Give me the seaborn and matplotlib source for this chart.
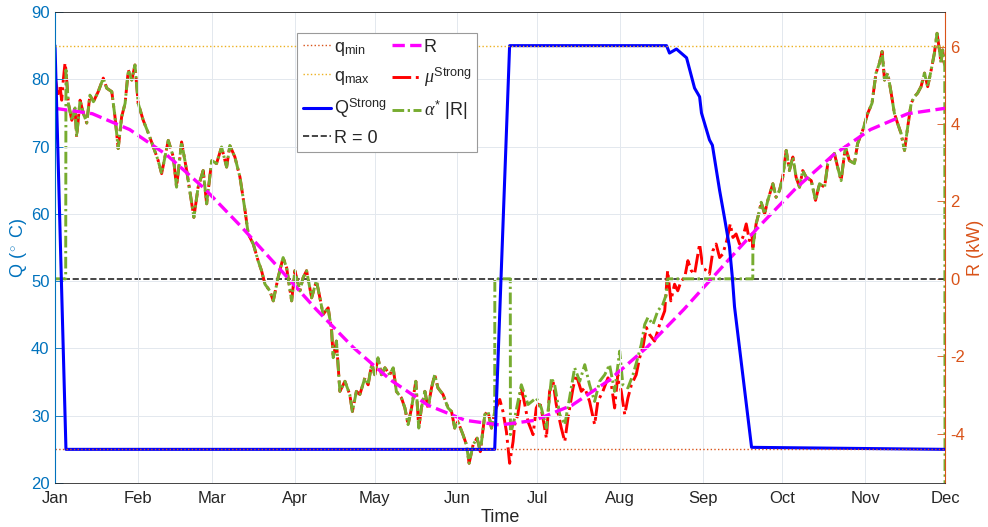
import pandas as pd
import matplotlib
matplotlib.use("Agg")
import matplotlib.pyplot as plt
import matplotlib.dates as mdates
import seaborn as sns

# ==============================
# Data (days counted from Jan 1)
# ==============================
START = pd.Timestamp("2021-01-01")
END = pd.Timestamp("2021-12-01")

q_min = 25
q_max = 85

# Q^Strong, left axis (deg C)
q_days = [0.0, 4.1, 165.0, 170.6, 229.5, 230.6, 233.2, 237.0, 240.0, 241.9,
          242.6, 245.6, 246.7, 249.4, 251.2, 253.1, 254.2, 255.0, 261.4, 334.0]
q_temp = [85.0, 25.0, 25.0, 85.0, 85.0, 83.9, 84.5, 83.2, 78.7, 77.4,
          75.0, 71.0, 70.2, 63.5, 59.5, 55.1, 50.5, 46.2, 25.3, 25.0]

# R, right axis (kW)
r_days = [0, 14, 28, 42, 56, 70, 84, 98, 112, 126, 140, 154, 167,
          180, 194, 208, 222, 236, 250, 264, 278, 292, 306, 320, 334]
r_kw = [4.41, 4.27, 3.86, 3.20, 2.34, 1.34, 0.28, -0.79, -1.78, -2.62, -3.27, -3.66, -3.78,
        -3.66, -3.27, -2.62, -1.78, -0.79, 0.28, 1.34, 2.34, 3.20, 3.86, 4.27, 4.41]

# mu^Strong alone, first days of January
jan_days = [0.0, 1.2, 1.9, 2.5, 3.1, 3.75]
jan_kw = [5.23, 4.71, 4.97, 4.62, 5.14, 5.58]

# mu^Strong == alpha*|R|, Jan -> mid June
s1_days = [4.1, 5.0, 6.3, 7.5, 8.1, 9.4, 10.6, 11.9, 13.1, 14.4,
           16.2, 18.1, 19.4, 21.3, 22.5, 23.7, 25.0, 26.3, 27.5, 28.8,
           30.0, 31.2, 33.1, 35.0, 36.9, 38.7, 40.0, 42.5, 44.4, 45.6,
           47.5, 49.4, 52.1, 53.7, 55.6, 56.9, 58.8, 60.6, 62.5, 64.4,
           65.6, 67.5, 69.4, 71.3, 72.5, 74.4, 76.2, 77.5, 78.8, 80.6,
           81.9, 83.7, 85.6, 86.9, 88.8, 90.0, 91.9, 93.1, 94.4, 96.3,
           98.1, 99.4, 100.6, 102.5, 103.8, 104.4, 105.6, 106.9, 108.8, 110.6,
           111.6, 113.1, 114.4, 116.3, 117.5, 118.8, 120.0, 121.2, 122.5, 123.8,
           125.6, 126.9, 128.1, 130.0, 131.3, 132.5, 133.8, 135.4, 136.5, 137.5,
           138.8, 140.0, 141.3, 142.5, 143.7, 145.6, 147.5, 148.8, 150.0, 151.2,
           153.1, 154.4, 155.4, 156.9, 158.4, 159.6, 161.3, 162.5, 163.8, 165.0]
s1_kw = [5.40, 4.54, 4.10, 4.42, 3.67, 4.62, 4.29, 4.03, 4.75, 4.58,
         4.84, 5.19, 4.93, 4.84, 4.19, 3.37, 4.19, 4.54, 5.40, 5.14,
         5.53, 4.54, 4.10, 3.77, 3.41, 3.06, 2.72, 3.58, 3.15, 2.37,
         3.54, 2.80, 1.59, 2.37, 2.80, 1.94, 3.06, 2.98, 3.41, 2.89,
         3.45, 3.15, 2.63, 1.77, 1.16, 0.90, 0.47, 0.21, -0.14, -0.31,
         -0.57, 0.03, 0.55, 0.29, -0.57, 0.21, -0.31, 0.03, 0.21, -0.49,
         -0.05, -0.49, -0.92, -0.75, -1.35, -2.04, -1.61, -2.91, -2.65, -2.99,
         -3.43, -2.91, -2.99, -2.56, -2.74, -2.22, -2.48, -2.04, -2.48, -2.30,
         -2.48, -2.30, -2.91, -3.08, -3.34, -3.77, -3.34, -2.65, -3.86, -3.34,
         -2.91, -3.34, -2.82, -2.48, -2.82, -2.99, -3.34, -3.43, -3.86, -3.69,
         -4.03, -4.29, -4.77, -4.29, -4.12, -4.47, -3.51, -3.43, -3.86, -3.43]

# mu^Strong alone, mid June -> Sep 20
mu_mid_days = [166.9, 168.1, 169.4, 170.6, 171.9, 172.5, 173.7, 175.0, 176.3, 177.5,
               179.4, 180.6, 181.9, 183.1, 184.4, 185.6, 186.9, 188.1, 190.0, 191.3,
               192.5, 194.4, 195.6, 197.5, 198.8, 200.6, 202.5, 203.7, 205.6, 207.5,
               208.8, 210.0, 211.2, 212.5, 213.8, 215.0, 216.3, 218.1, 219.4, 220.6,
               221.9, 223.1, 225.0, 226.9, 228.8, 229.9, 231.1, 232.5, 233.7, 235.0,
               236.3, 237.5, 238.8, 240.0, 241.9, 243.1, 244.4, 245.6, 246.9, 248.1,
               249.4, 250.6, 252.1, 253.4, 254.4, 255.6, 256.9, 258.1, 259.4, 260.6,
               261.5]
mu_mid_kw = [-3.12, -3.43, -3.95, -4.77, -4.21, -3.77, -3.51, -2.82, -3.25, -3.69,
             -4.03, -3.34, -3.17, -3.60, -4.12, -2.91, -2.65, -3.25, -3.86, -4.21,
             -3.60, -2.82, -2.48, -2.91, -2.82, -3.17, -3.77, -3.17, -2.91, -2.56,
             -2.74, -3.34, -2.48, -2.91, -3.51, -3.08, -2.74, -2.48, -2.04, -1.78,
             -1.26, -1.44, -1.61, -1.18, -0.83, 0.21, -0.57, -0.14, -0.31, -0.05,
             0.03, 0.47, 0.21, 0.12, 0.90, 0.29, 0.21, 0.12, 0.73, 0.90,
             0.55, 0.64, 0.99, 1.42, 1.07, 1.16, 0.90, 1.07, 1.42, 0.99,
             1.16]

# alpha*|R| alone, Jun 20 -> Aug 18
alpha_mid_days = [170.9, 172.5, 175.0, 177.5, 180.6, 182.5, 184.4, 186.3, 187.5, 189.4,
                  191.3, 193.1, 195.0, 196.9, 198.8, 200.6, 202.5, 204.4, 206.3, 208.1,
                  210.0, 211.9, 213.1, 215.0, 216.9, 218.7, 220.0, 221.3, 222.5, 224.4,
                  226.2, 228.1, 229.4]
alpha_mid_kw = [-4.03, -3.60, -2.74, -3.25, -3.08, -3.34, -3.86, -2.56, -2.74, -3.51,
                -3.77, -3.08, -2.30, -2.65, -2.22, -2.74, -3.17, -2.65, -2.48, -2.22,
                -2.91, -1.87, -2.74, -2.82, -2.48, -2.04, -1.70, -1.18, -1.00, -1.18,
                -0.83, -0.66, -0.40]

# alpha*|R| is zero over these spans (start, end day)
alpha_zero_spans = [(0.0, 4.0), (165.05, 170.85), (229.9, 261.85)]
alpha_end_kw = -6.0  # last sample falls below the axis

# mu^Strong == alpha*|R|, Sep 20 -> Dec 1
s2_days = [261.9, 263.1, 264.4, 265.0, 266.3, 267.5, 269.4, 270.6, 271.9, 273.1,
           274.4, 275.6, 276.9, 278.1, 279.4, 280.6, 281.9, 283.8, 285.4, 286.9,
           288.8, 290.0, 291.3, 292.5, 293.7, 295.0, 296.6, 298.1, 300.0, 301.2,
           303.1, 305.0, 306.6, 308.1, 309.4, 310.4, 311.3, 312.5, 313.8, 315.0,
           316.2, 317.5, 318.8, 320.0, 321.3, 322.5, 323.7, 325.0, 326.3, 327.5,
           328.8, 330.0, 331.0, 331.9, 332.5, 333.1, 333.9]
s2_kw = [0.81, 1.42, 1.77, 1.98, 1.68, 2.03, 2.46, 2.11, 2.29, 2.63,
         3.32, 2.80, 3.15, 2.63, 2.37, 2.80, 2.63, 2.54, 2.03, 2.46,
         2.37, 2.98, 3.15, 3.24, 2.89, 2.54, 3.41, 3.06, 2.98, 3.50,
         3.84, 4.28, 4.54, 5.32, 5.58, 5.88, 5.14, 5.32, 4.80, 4.28,
         4.02, 3.76, 3.32, 3.93, 4.54, 4.71, 4.80, 4.97, 5.32, 4.97,
         5.40, 5.83, 6.35, 5.92, 5.58, 5.92, 5.49]

# ==============================
# Colours (MATLAB defaults)
# ==============================
BLUE_AX = "#0072BD"
ORANGE_AX = "#D95319"
YELLOW = "#EDB120"
GREEN = "#77AC30"
DARK = "#262626"


def frame(days, vals):
    return pd.DataFrame({"time": START + pd.to_timedelta(days, unit="D"), "val": vals})


mu_days = jan_days + s1_days + mu_mid_days + s2_days
mu_kw = jan_kw + s1_kw + mu_mid_kw + s2_kw

z1, z2, z3 = alpha_zero_spans
alpha_days = ([z1[0], z1[1]] + s1_days + [z2[0], z2[1]] + alpha_mid_days
              + [z3[0], z3[1]] + s2_days + [334.0])
alpha_kw = ([0, 0] + s1_kw + [0, 0] + alpha_mid_kw + [0, 0] + s2_kw + [alpha_end_kw])

# ==============================
# Style
# ==============================
sns.set_theme(style="white")
plt.rcParams["font.family"] = ["Liberation Sans", "DejaVu Sans"]
plt.rcParams["mathtext.fontset"] = "custom"
plt.rcParams["mathtext.rm"] = "Liberation Sans"
plt.rcParams["mathtext.it"] = "Liberation Serif:italic"
plt.rcParams["axes.unicode_minus"] = False

fig = plt.figure(figsize=(9.88, 5.27), dpi=100)
ax = fig.add_axes([0.0557, 0.0835, 0.9008, 0.8937])
ax2 = ax.twinx()
ax.set_zorder(ax2.get_zorder() + 1)
ax.patch.set_visible(False)

line_kw = dict(estimator=None, sort=False, legend=False)

# ---- right axis: R, mu, alpha ----
h_r0 = ax2.axhline(0, color=DARK, ls="--", lw=1.2)
sns.lineplot(data=frame(mu_days, mu_kw), x="time", y="val", ax=ax2,
             color="#FF0000", linestyle="-.", lw=2.1, **line_kw)
h_mu = ax2.lines[-1]
sns.lineplot(data=frame(alpha_days, alpha_kw), x="time", y="val", ax=ax2,
             color=GREEN, linestyle=(0, (4, 1.2, 0.8, 1.2)), lw=2.1, **line_kw)
h_alpha = ax2.lines[-1]
sns.lineplot(data=frame(r_days, r_kw), x="time", y="val", ax=ax2,
             color="#FF00FF", linestyle="--", lw=2.4, **line_kw)
h_r = ax2.lines[-1]

# ---- left axis: Q and bounds ----
sns.lineplot(data=frame(q_days, q_temp), x="time", y="val", ax=ax,
             color="#0000FF", lw=2.2, **line_kw)
h_q = ax.lines[-1]
h_qmin = ax.axhline(q_min, color=ORANGE_AX, ls=":", lw=1.0)
h_qmax = ax.axhline(q_max, color=YELLOW, ls=":", lw=1.0)

# ---- axes ----
ax.set_xlim(START, END)
ax.set_ylim(20, 90)
ax.set_yticks(range(20, 91, 10))
ax2.set_ylim(-5.28, 6.9)
ax2.set_yticks(range(-4, 7, 2))
ax.xaxis.set_major_locator(mdates.MonthLocator())
ax.xaxis.set_major_formatter(mdates.DateFormatter("%b"))

ax.grid(True, color="#e3e8ee", lw=0.7)
ax2.grid(False)

ax.tick_params(axis="y", colors=BLUE_AX, direction="in", length=5.5, width=0.6,
               labelsize=12, pad=4)
ax.tick_params(axis="x", colors=DARK, direction="in", length=5.5, width=0.6,
               labelsize=12, pad=6)
ax2.tick_params(axis="y", colors=ORANGE_AX, direction="in", length=5.5, width=0.6,
                labelsize=12, pad=4)

for s in ["left", "right", "top", "bottom"]:
    ax2.spines[s].set_visible(False)
ax2.spines["right"].set_visible(True)
ax2.spines["right"].set_color(ORANGE_AX)
ax2.spines["right"].set_linewidth(0.8)
ax.spines["right"].set_visible(False)
ax.spines["left"].set_color(BLUE_AX)
ax.spines["left"].set_linewidth(0.8)
ax.spines["bottom"].set_color(DARK)
ax.spines["top"].set_color(DARK)
for s in ["top", "bottom"]:
    ax.spines[s].set_linewidth(0.6)

ax.set_ylabel(r"Q ($^\circ$ C)", color=BLUE_AX, fontsize=13, labelpad=1)
ax2.set_ylabel("R (kW)", color=ORANGE_AX, fontsize=13, labelpad=1)
ax.set_xlabel("Time", color=DARK, fontsize=13, labelpad=2)

handles = [h_qmin, h_qmax, h_q, h_r0, h_r, h_mu, h_alpha]
labels = [r"q$_{\mathrm{min}}$", r"q$_{\mathrm{max}}$", r"Q$^{\mathrm{Strong}}$", "R = 0",
          "R", r"$\mu^{\mathrm{Strong}}$", r"$\alpha^{*}$ |R|"]
leg = ax.legend(handles, labels, ncol=2, loc="upper left", bbox_to_anchor=(0.272, 0.955),
                frameon=True, fancybox=False, edgecolor="#9a9a9a", framealpha=1,
                fontsize=13, handlelength=1.6, handletextpad=0.15, columnspacing=0.3,
                labelspacing=0.55, borderpad=0.3, borderaxespad=0)
leg.get_frame().set_linewidth(0.8)
for t in leg.get_texts():
    t.set_color(DARK)

fig.savefig("out.png", dpi=100)
